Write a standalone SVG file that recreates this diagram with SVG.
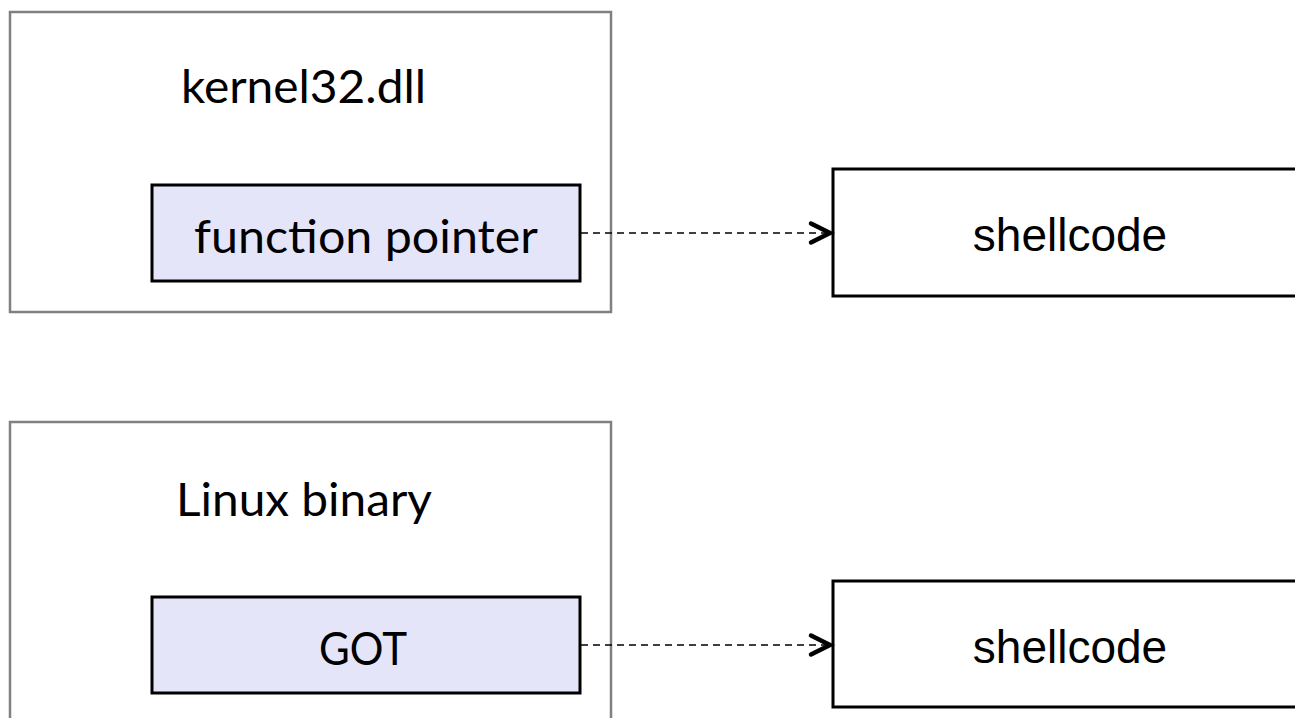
<svg xmlns="http://www.w3.org/2000/svg" width="1295" height="718" viewBox="0 0 1295 718">
  <style>
    .module { fill: #ffffff; stroke: #808080; stroke-width: 2.5; }
    .slot { fill: #e5e5fa; stroke: #000000; stroke-width: 3; }
    .target { fill: #ffffff; stroke: #000000; stroke-width: 3; }
    .label { font-family: Lato, "Open Sans", "Noto Sans", sans-serif; font-size: 46px; fill: #000000; }
    .code { font-family: "Liberation Sans", Arial, sans-serif; font-size: 46px; fill: #000000; }
    .link { fill: none; stroke: #000000; stroke-width: 1.6; stroke-dasharray: 7 5; }
    .head { fill: none; stroke: #000000; stroke-width: 4.5; stroke-linecap: round; stroke-linejoin: miter; }
  </style>
  <defs>
    <!-- open chevron arrowhead, tip at the origin -->
    <path id="chevron" class="head" d="M-19,-9.5 L0,0 L-19,9.5"/>
  </defs>

  <rect width="1295" height="718" fill="#ffffff"/>

  <!-- Windows module with its function pointer slot -->
  <g id="kernel32">
    <rect class="module" x="10" y="12" width="601" height="300"/>
    <text class="label" x="181" y="103" textLength="245" lengthAdjust="spacingAndGlyphs">kernel32.dll</text>
  </g>
  <g id="function-pointer">
    <rect class="slot" x="152" y="185" width="428" height="96"/>
    <text class="label" x="194" y="253" textLength="344" lengthAdjust="spacingAndGlyphs">function pointer</text>
  </g>
  <g id="shellcode-win">
    <rect class="target" x="833" y="169" width="480" height="127"/>
    <text class="code" x="1070" y="251" text-anchor="middle">shellcode</text>
  </g>

  <!-- Linux binary with its GOT -->
  <g id="linux-binary">
    <rect class="module" x="10" y="422" width="601" height="310"/>
    <text class="label" x="176" y="516" textLength="256" lengthAdjust="spacingAndGlyphs">Linux binary</text>
  </g>
  <g id="got">
    <rect class="slot" x="152" y="597" width="428" height="96"/>
    <text class="label" x="363" y="665" text-anchor="middle" textLength="88" lengthAdjust="spacingAndGlyphs">GOT</text>
  </g>
  <g id="shellcode-linux">
    <rect class="target" x="833" y="581" width="480" height="126"/>
    <text class="code" x="1070" y="663" text-anchor="middle">shellcode</text>
  </g>

  <!-- overwritten pointers redirect to shellcode -->
  <g id="connectors">
    <path class="link" d="M581,233 L828,233"/>
    <use href="#chevron" x="830" y="233"/>
    <path class="link" d="M581,645 L828,645"/>
    <use href="#chevron" x="830" y="645"/>
  </g>
</svg>
